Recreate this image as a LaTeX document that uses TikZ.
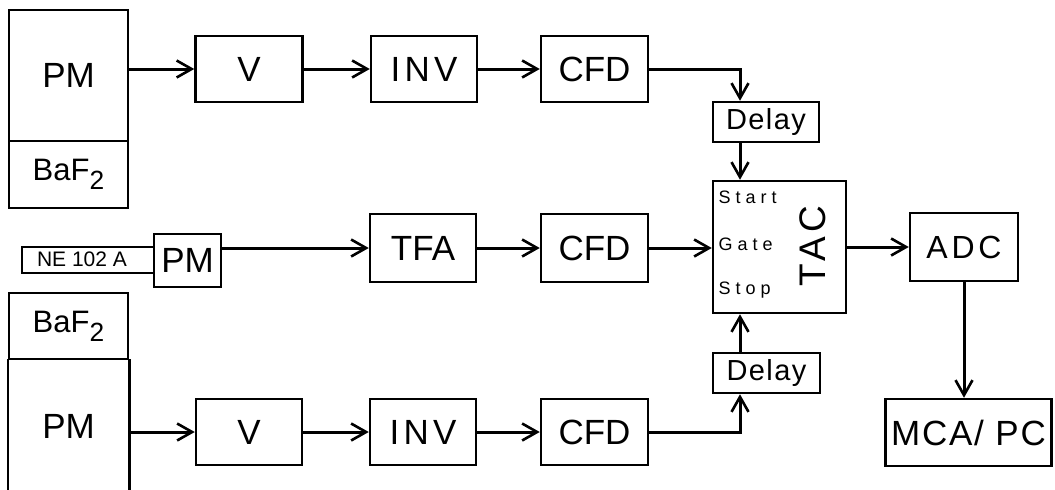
\documentclass[tikz,border=0pt]{standalone}
\usepackage{fontspec}
\setmainfont{Liberation Sans}
\newfontfamily\portfont[LetterSpace=28]{Liberation Sans}
\newfontfamily\widefont[LetterSpace=12]{Liberation Sans}
\newfontfamily\slightfont[LetterSpace=5]{Liberation Sans}
\usetikzlibrary{arrows.meta}

\begin{document}
\begin{tikzpicture}[x=1pt,y=-1pt,
  blk/.style 2 args={draw,line width=2.5pt,inner sep=0pt,fill=white,
    minimum width=#1,minimum height=#2},
  arr/.style={line width=3pt,
    -{Straight Barb[length=15pt,width=17pt,line width=2.6pt]}},
  big/.style={font=\fontsize{35}{40}\selectfont},
  mid/.style={font=\fontsize{31}{36}\selectfont},
  small/.style={font=\fontsize{29}{32}\slightfont},
  port/.style={anchor=west,font=\fontsize{18}{20}\portfont}]

\useasboundingbox (0,0) rectangle (1055,490);

% detector 1: BaF2 crystal on a photomultiplier
\node[blk={119}{131},big] (pm1) at (68.5,75.5) {PM};
\node[blk={119}{67},mid] (baf1) at (68.5,174.5) {BaF\raisebox{-.3em}{\scalebox{.85}{2}}};

% detector 2: plastic scintillator on a photomultiplier
\node[blk={138}{26}] (ne) at (91,260) {};
\node[font=\fontsize{21}{24}\selectfont] (nelbl) at (82,259) {NE 102 A};
\node[blk={67}{53},big] (pms) at (187.5,260.5) {PM};

% detector 3: BaF2 crystal on a photomultiplier (open at the bottom)
\node[blk={119}{66},mid] (baf2) at (68.5,326) {BaF\raisebox{-.3em}{\scalebox{.85}{2}}};
\node[minimum width=119,minimum height=130,inner sep=0pt,big] (pm2) at (68.5,426) {PM};
\draw[line width=2.5pt,line cap=rect] (baf2.south west) -- ++(0,135);
\draw[line width=2.5pt,line cap=rect] (baf2.south east) -- ++(0,135);

% electronics chains
\node[blk={107}{66},big] (v1)   at (249,69)    {V};
\node[blk={106}{66},big] (inv1) at (424,69)    {\widefont INV};
\node[blk={107}{66},big] (cfd1) at (594.5,69)  {CFD};

\node[blk={106}{68},big] (tfa)  at (423,248)   {TFA};
\node[blk={107}{68},big] (cfd2) at (594.5,248) {CFD};

\node[blk={106}{66},big] (v2)   at (249,432)   {V};
\node[blk={106}{66},big] (inv2) at (423,432)   {\widefont INV};
\node[blk={107}{66},big] (cfd3) at (594.5,432) {CFD};

\node[blk={106}{40},small] (dl1) at (766,122)   {Delay};
\node[blk={107}{40},small] (dl2) at (766.5,373) {Delay};

\node[blk={133}{132}] (tac) at (779.5,247) {};
\node[rotate=90,font=\fontsize{37}{40}\widefont] (tacl) at (813,246) {TAC};
\node[port] (start) at (715,197) {Start};
\node[port] (gate)  at (715,244) {Gate};
\node[port] (stop)  at (715,290) {Stop};

\node[blk={108}{68},font=\fontsize{32}{36}\widefont] (adc) at (964,247) {ADC};
\node[blk={166}{67},font=\fontsize{35}{40}\slightfont] (mca) at (968.5,432.5) {MCA/ PC};

\coordinate (tap) at (740,0);

% signal paths
\draw[arr] (pm1.east |- v1.west) -- (v1.west);
\draw[arr] (v1) -- (inv1);
\draw[arr] (inv1) -- (cfd1);
\draw[arr] (cfd1.east) -| (tap |- dl1.north);
\draw[arr] (tap |- dl1.south) -- (tap |- tac.north);

\draw[arr] (pms.east |- tfa.west) -- (tfa.west);
\draw[arr] (tfa) -- (cfd2);
\draw[arr] (cfd2.east) -- (cfd2.east -| tac.west);

\draw[arr] (pm2.east |- v2.west) -- (v2.west);
\draw[arr] (v2) -- (inv2);
\draw[arr] (inv2) -- (cfd3);
\draw[arr] (cfd3.east) -| (tap |- dl2.south);
\draw[arr] (tap |- dl2.north) -- (tap |- tac.south);

\draw[arr] (tac.east) -- (adc.west);
\draw[arr] (adc.south) -- (adc.south |- mca.north);

\end{tikzpicture}
\end{document}
